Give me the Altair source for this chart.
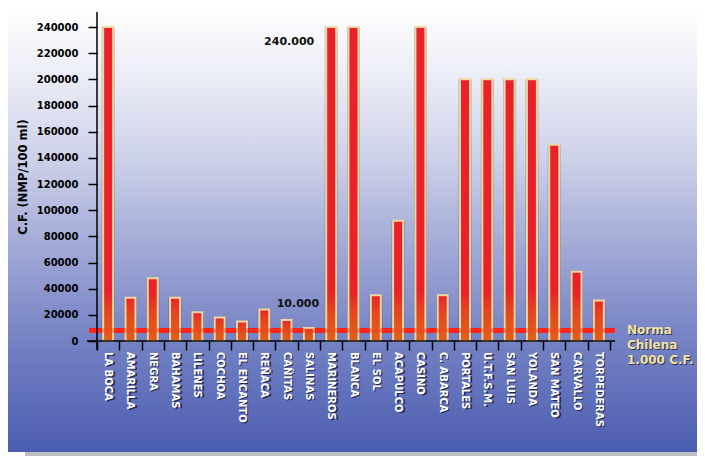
import altair as alt
import pandas as pd

categories = ["LA BOCA", "AMARILLA", "NEGRA", "BAHAMAS", "LILENES", "COCHOA",
              "EL ENCANTO", "REÑACA", "CAÑITAS", "SALINAS", "MARINEROS", "BLANCA",
              "EL SOL", "ACAPULCO", "CASINO", "C. ABARCA", "PORTALES", "U.T.F.S.M.",
              "SAN LUIS", "YOLANDA", "SAN MATEO", "CARVALLO", "TORPEDERAS"]
values = [240000, 33000, 48000, 33000, 22000, 18000, 15000, 24000, 16000, 10000,
          240000, 240000, 35000, 92000, 240000, 35000, 200000, 200000, 200000,
          200000, 150000, 53000, 31000]
norma_value = [8000]
norma_text = ["Norma", "Chilena", "1.000 C.F."]
annot_top = ["240.000"]
annot_top_cat = ["MARINEROS"]
annot_top_val = [240000]
annot_low = ["10.000"]
annot_low_cat = ["SALINAS"]
annot_low_val = [10000]
y_ticks = [0, 20000, 40000, 60000, 80000, 100000, 120000, 140000, 160000,
           180000, 200000, 220000, 240000]

W, H = 513, 329
Y_MAX = 251500
FONT = "DejaVu Sans"

df = pd.DataFrame({"cat": categories, "v": values})
one = pd.DataFrame({"k": [0]})
norma_df = pd.DataFrame({"v": norma_value, "t": [norma_text]})
top_df = pd.DataFrame({"cat": annot_top_cat, "v": annot_top_val, "t": annot_top})
low_df = pd.DataFrame({"cat": annot_low_cat, "v": annot_low_val, "t": annot_low})

xscale = alt.Scale(paddingInner=0, paddingOuter=0)
yscale = alt.Scale(domain=[0, Y_MAX], nice=False, zero=True)

yaxis = alt.Axis(values=y_ticks, format="d", domain=False, grid=False, zindex=1,
                 labelFont=FONT, labelFontWeight="bold", labelFontSize=10,
                 labelColor="black", labelPadding=10,
                 tickSize=9, tickColor="black", tickWidth=1.5,
                 title="C.F. (NMP/100 ml)", titleFont=FONT, titleFontSize=11.5,
                 titleFontWeight="bold", titleColor="black",
                 titleX=-74, titleY=H / 2, titleAngle=-90,
                 titleAlign="center", titleBaseline="middle")
xaxis = alt.Axis(domain=False, labels=False, ticks=True, tickBand="extent", zindex=1,
                 tickSize=9, tickColor="black", tickWidth=1.5, title=None, grid=False)


def X():
    return alt.X("cat:N", sort=categories, scale=xscale, axis=xaxis)


def Y(field="v:Q"):
    return alt.Y(field, scale=yscale, axis=yaxis)


bg_grad = alt.Gradient(
    gradient="linear", x1=0, x2=0, y1=0, y2=1,
    stops=[alt.GradientStop(color="#ffffff", offset=0),
           alt.GradientStop(color="#f0f1f8", offset=0.12),
           alt.GradientStop(color="#cfd3ea", offset=0.33),
           alt.GradientStop(color="#a3abd7", offset=0.53),
           alt.GradientStop(color="#7683c4", offset=0.74),
           alt.GradientStop(color="#4b5db0", offset=1)])

bg = alt.Chart(one).mark_rect(color=bg_grad).encode(
    x=alt.value(-89), x2=alt.value(600), y=alt.value(-4), y2=alt.value(440))
gray = alt.Chart(one).mark_rect(color="#bebfc4").encode(
    x=alt.value(-72), x2=alt.value(600), y=alt.value(440), y2=alt.value(444))

rule_back = alt.Chart(norma_df).mark_rule(color="#ff1a1a", strokeWidth=5).encode(
    x=alt.value(-8), x2=alt.value(518), y=Y())
rule_front = alt.Chart(norma_df).mark_rule(color="#ff3a1a", strokeWidth=4, opacity=0.4).encode(
    x=alt.value(-8), x2=alt.value(518), y=Y())

shadow = alt.Chart(df).mark_bar(width=13, color="#202040", opacity=0.3).encode(
    x=X(), y=Y())

bars = alt.Chart(df).mark_bar(width=10, color="#e8212b").encode(
    x=X(), y=Y())

orange_grad = alt.Gradient(
    gradient="linear", x1=0, x2=0, y1=0, y2=1,
    stops=[alt.GradientStop(color="#e7262a", offset=0),
           alt.GradientStop(color="#e34422", offset=0.35),
           alt.GradientStop(color="#e0581c", offset=0.75),
           alt.GradientStop(color="#df601a", offset=1)])
lower = alt.Chart(df).transform_calculate(
    low="min(datum.v, 36000)").mark_bar(width=10, color=orange_grad).encode(
    x=X(), y=Y("low:Q"))

outline = alt.Chart(df).mark_bar(width=10, filled=False, color="#f0d6a0",
                                 strokeWidth=2).encode(
    x=X(), y=Y())

xline = alt.Chart(one).mark_rule(color="black", strokeWidth=1.5).encode(
    x=alt.value(-10), x2=alt.value(518), y=alt.value(H))
yline = alt.Chart(one).mark_rule(color="black", strokeWidth=1.5).encode(
    x=alt.value(0), y=alt.value(0), y2=alt.value(H + 9))

lab_shadow = alt.Chart(df).mark_text(angle=90, align="left", baseline="middle",
                                     font=FONT, fontWeight="bold", fontSize=10,
                                     color="#1c1c3a", opacity=0.85, dx=1, dy=-1.5).encode(
    x=X(), y=alt.value(H + 11), text="cat:N")
lab = alt.Chart(df).mark_text(angle=90, align="left", baseline="middle",
                              font=FONT, fontWeight="bold", fontSize=10,
                              color="white").encode(
    x=X(), y=alt.value(H + 11), text="cat:N")

top_txt = alt.Chart(top_df).mark_text(align="right", baseline="middle", font=FONT,
                                      fontWeight="bold", fontSize=11, color="#111111",
                                      dx=-17, dy=15).encode(
    x=X(), y=Y(), text="t:N")
low_txt = alt.Chart(low_df).mark_text(align="center", baseline="middle", font=FONT,
                                      fontWeight="bold", fontSize=11, color="#111111",
                                      dx=-11, dy=-24).encode(
    x=X(), y=Y(), text="t:N")

norma_shadow = alt.Chart(norma_df).mark_text(align="left", baseline="middle", font=FONT,
                                             fontWeight="bold", fontSize=12, lineHeight=15,
                                             color="#1c1c3a", opacity=0.8, dx=1, dy=0).encode(
    x=alt.value(530), y=Y(), text="t")
norma_txt = alt.Chart(norma_df).mark_text(align="left", baseline="middle", font=FONT,
                                          fontWeight="bold", fontSize=12, lineHeight=15,
                                          color="#f4e3a3", dy=-1).encode(
    x=alt.value(530), y=Y(), text="t")

chart = alt.layer(
    bg, gray, rule_back, shadow, bars, lower, outline, rule_front,
    xline, yline, lab_shadow, lab, top_txt, low_txt, norma_shadow, norma_txt
).properties(
    width=W, height=H,
    padding={"left": 89, "top": 4, "right": 87, "bottom": 115},
    autosize=alt.AutoSizeParams(type="none"),
).configure_view(stroke=None)

chart.save("out.html", embed_options={"renderer": "svg", "actions": False})
